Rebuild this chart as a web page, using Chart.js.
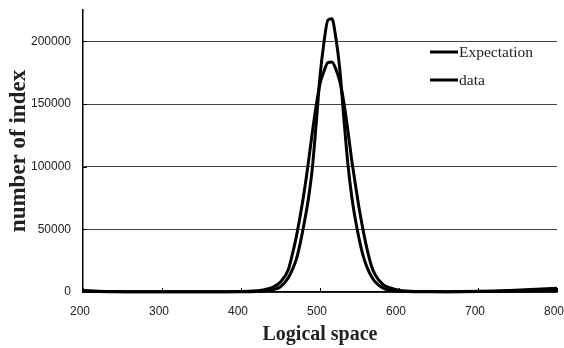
<!DOCTYPE html>
<html>
<head>
<meta charset="utf-8">
<script src="https://cdn.jsdelivr.net/npm/chart.js@4"></script>
<style>
  html, body { margin: 0; padding: 0; background: #fff; }
  #wrap { width: 564px; height: 348px; }
</style>
</head>
<body>
<div id="wrap"><canvas id="chart" width="564" height="348"></canvas></div>
<script>
// Значения
const xs = [200, 220, 240, 260, 280, 300, 320, 340, 360, 380, 400, 410, 420, 430, 440, 450,
  460, 465, 470, 475, 480, 485, 490, 495, 500, 505, 510, 515, 520, 525, 530, 535, 540,
  545, 550, 555, 560, 565, 570, 580, 590, 600, 610, 620, 640, 660, 680, 700, 720, 740,
  760, 780, 800];

const expectation = [1200, 600, 300, 200, 150, 150, 150, 150, 160, 180, 200, 280, 450, 850,
  1800, 4200, 11500, 17800, 26000, 39000, 55000, 73000, 97000, 133000, 172000, 199000,
  217000, 218000, 203000, 178000, 140000, 104000, 77000, 57000, 41000, 28000, 19000,
  12500, 8000, 3000, 1300, 650, 380, 250, 200, 200, 300, 500, 800, 1200, 1700, 2300, 3000];

const observed = [800, 400, 250, 200, 200, 200, 200, 200, 220, 260, 400, 550, 1000, 1900,
  3800, 8000, 18000, 30000, 44000, 61000, 80000, 102000, 126000, 148000, 166000, 176000,
  183000, 183500, 178000, 168000, 152000, 130000, 106000, 85000, 65000, 48000, 33000,
  21000, 13500, 5800, 3000, 1500, 800, 450, 300, 250, 250, 300, 450, 600, 800, 1000, 1500];

const seriesNames = ['Expectation', 'data'];
const xTicks = [200, 300, 400, 500, 600, 700, 800];
const yTicks = [0, 50000, 100000, 150000, 200000];

// легенда внутри области графика + короткие засечки внутрь
const innerBits = {
  id: 'innerBits',
  afterDraw(chart) {
    const c = chart.ctx;
    const a = chart.chartArea;
    const sx = chart.scales.x, sy = chart.scales.y;
    c.save();
    c.strokeStyle = '#000';
    c.lineWidth = 1;
    xTicks.forEach(v => {
      const px = Math.round(sx.getPixelForValue(v)) + 0.5;
      c.beginPath(); c.moveTo(px, a.bottom); c.lineTo(px, a.bottom - 4); c.stroke();
    });
    yTicks.forEach(v => {
      const py = Math.round(sy.getPixelForValue(v)) + 0.5;
      c.beginPath(); c.moveTo(a.left, py); c.lineTo(a.left + 4, py); c.stroke();
    });

    c.font = "15.5px 'Liberation Serif', 'DejaVu Serif', serif";
    c.textBaseline = 'middle';
    c.fillStyle = '#222';
    chart.data.datasets.forEach((ds, i) => {
      const y = 52 + i * 28;
      c.strokeStyle = ds.borderColor;
      c.lineWidth = 3;
      c.beginPath(); c.moveTo(430, y); c.lineTo(458, y); c.stroke();
      c.fillText(ds.label, 459, y + 1);
    });
    c.restore();
  }
};

new Chart(document.getElementById('chart'), {
  type: 'line',
  data: {
    datasets: [
      {
        label: seriesNames[0],
        data: xs.map((x, i) => ({ x: x, y: expectation[i] })),
        borderColor: '#000',
        borderWidth: 3,
        pointRadius: 0,
        cubicInterpolationMode: 'monotone',
        clip: 3
      },
      {
        label: seriesNames[1],
        data: xs.map((x, i) => ({ x: x, y: observed[i] })),
        borderColor: '#000',
        borderWidth: 3,
        pointRadius: 0,
        cubicInterpolationMode: 'monotone',
        clip: 3
      }
    ]
  },
  options: {
    responsive: false,
    animation: false,
    layout: { padding: { top: 10, right: 7, left: 0, bottom: 0 } },
    plugins: {
      legend: { display: false },
      tooltip: { enabled: false }
    },
    scales: {
      x: {
        type: 'linear',
        min: 200,
        max: 800,
        afterBuildTicks: s => { s.ticks = xTicks.map(v => ({ value: v })); },
        afterFit: s => { s.height = 56; s.paddingLeft = 0; s.paddingRight = 0; },
        grid: { display: false, drawTicks: false },
        border: { color: '#000', width: 1.5 },
        ticks: {
          padding: 12,
          labelOffset: -3,
          color: '#222',
          font: { family: "'Liberation Sans Narrow', 'Liberation Sans', Arial, sans-serif", size: 12 },
          maxRotation: 0,
          callback: v => String(v)
        },
        title: {
          display: true,
          text: 'Logical space',
          color: '#222',
          padding: { top: 0, bottom: 1 },
          font: { family: "'Liberation Serif', 'DejaVu Serif', serif", size: 20, weight: 'bold' }
        }
      },
      y: {
        min: 0,
        max: 225000,
        afterBuildTicks: s => { s.ticks = yTicks.map(v => ({ value: v })); },
        afterFit: s => { s.width = 83; s.paddingTop = 0; s.paddingBottom = 0; },
        grid: { color: '#444', lineWidth: 1, drawTicks: false },
        border: { color: '#000', width: 1.5 },
        ticks: {
          padding: 12,
          color: '#222',
          font: { family: "'Liberation Sans Narrow', 'Liberation Sans', Arial, sans-serif", size: 12 },
          callback: v => String(v)
        },
        title: {
          display: true,
          text: 'number of index',
          color: '#222',
          padding: { top: 5, bottom: 0 },
          font: { family: "'Liberation Serif', 'DejaVu Serif', serif", size: 23, weight: 'bold' }
        }
      }
    }
  },
  plugins: [innerBits]
});
</script>
</body>
</html>
